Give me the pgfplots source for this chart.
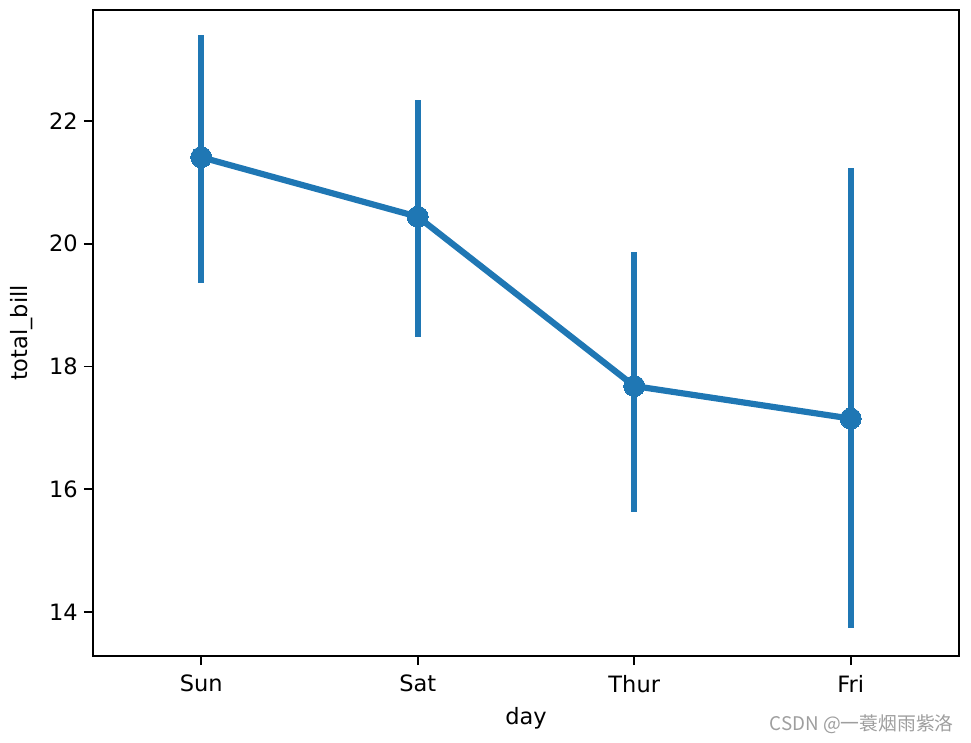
\documentclass[border=0pt]{standalone}
\usepackage{pgfplots}
\pgfplotsset{compat=1.18}
\usepackage{pgfplotstable}
\usepackage{fontspec}
\setmainfont{DejaVu Sans}
\newfontfamily\cjk{Noto Sans CJK SC}
\definecolor{mplblue}{HTML}{1F77B4}
\pgfplotstableread{
x y ep em
0 21.41 1.99 2.05
1 20.44 1.90 1.96
2 17.68 2.19 2.05
3 17.15 4.08 3.41
}\datatable
\begin{document}
\fontsize{22.5}{26}\selectfont
\begin{tikzpicture}
\useasboundingbox (-93pt,-86pt) rectangle (878pt,656pt);
\begin{axis}[
  scale only axis,
  width=866pt, height=646pt,
  at={(0,0)}, anchor=south west,
  xmin=-0.5, xmax=3.5,
  ymin=13.28, ymax=23.81,
  xtick={0,1,2,3},
  xticklabels={Sun,Sat,Thur,Fri},
  ytick={14,16,18,20,22},
  tick align=outside,
  tick pos=left,
  major tick length=9pt,
  axis line style={line width=1.8pt},
  every tick/.style={black, line width=1.8pt},
  /pgf/number format/assume math mode=true,
  tick label style={font=\fontsize{22.5}{26}\selectfont, inner sep=0pt},
  xticklabel style={yshift=-10pt},
  yticklabel style={xshift=-6pt},
  label style={font=\fontsize{22.5}{26}\selectfont, inner sep=0pt},
  xlabel={day},
  ylabel={total\_bill},
  xlabel style={at={(axis description cs:0.5,0)}, anchor=north, yshift=-51pt},
  ylabel style={at={(axis description cs:-0.0762,0.5)}, anchor=base},
  clip=false,
]
\addplot[
  mplblue, line width=6.2pt, line join=round,
  mark=*, mark size=10.5pt, mark options={line width=0pt, fill=mplblue},
  error bars/.cd, y dir=both, y explicit, error mark=none,
  error bar style={line width=6.2pt, mplblue},
] table[x=x, y=y, y error plus=ep, y error minus=em] {\datatable};
\end{axis}
\node[anchor=base east, inner sep=0pt, text=black!38, font=\cjk\fontsize{18.8}{21}\selectfont] at (861pt,-74pt) {CSDN @一蓑烟雨紫洛};
\end{tikzpicture}
\end{document}
